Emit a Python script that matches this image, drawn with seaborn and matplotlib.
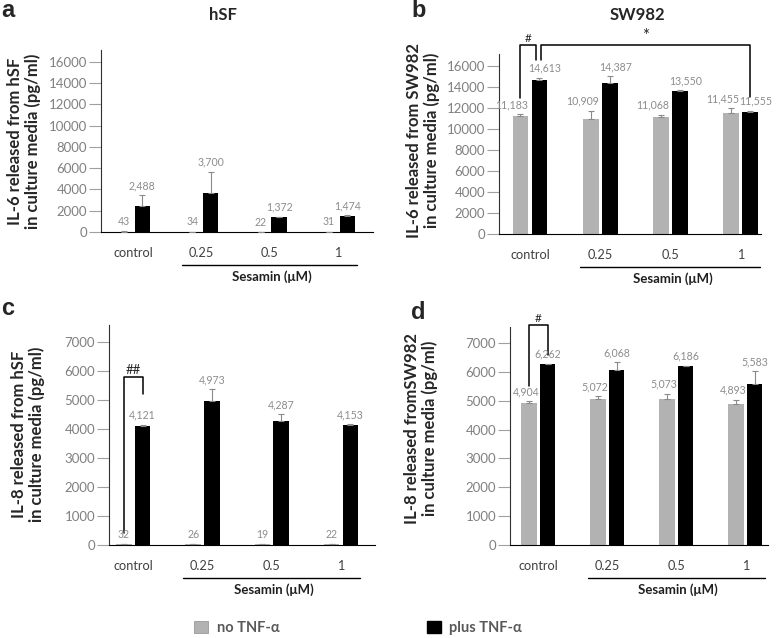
import numpy as np
import pandas as pd
import matplotlib
matplotlib.use('Agg')
import matplotlib.pyplot as plt
from matplotlib.patches import Patch
from matplotlib.transforms import blended_transform_factory, offset_copy
import seaborn as sns

# ---- data ----
doses = ['control', '0.25', '0.5', '1']
treatments = ['no TNF-α', 'plus TNF-α']

il6_hsf_no = [43, 34, 22, 31]
il6_hsf_plus = [2488, 3700, 1372, 1474]
il6_hsf_no_err = [10, 10, 8, 10]
il6_hsf_plus_err = [960, 1950, 50, 100]

il6_sw_no = [11183, 10909, 11068, 11455]
il6_sw_plus = [14613, 14387, 13550, 11555]
il6_sw_no_err = [200, 800, 250, 500]
il6_sw_plus_err = [250, 600, 100, 150]

il8_hsf_no = [32, 26, 19, 22]
il8_hsf_plus = [4121, 4973, 4287, 4153]
il8_hsf_no_err = [5, 5, 5, 5]
il8_hsf_plus_err = [30, 400, 230, 20]

il8_sw_no = [4904, 5072, 5073, 4893]
il8_sw_plus = [6262, 6068, 6186, 5583]
il8_sw_no_err = [80, 80, 160, 140]
il8_sw_plus_err = [20, 260, 20, 430]

W, H = 778, 638
BAR_COLORS = ['#b2b2b2', '#000000']
ERR_COLOR = '#8a8a8a'
LABEL_COLOR = '#8c8c8c'

sns.set_style('white')
plt.rcParams['font.family'] = ['Lato', 'DejaVu Sans']


def add_axes_px(fig, left, top, right, bottom):
    return fig.add_axes([left / W, 1 - bottom / H, (right - left) / W, (bottom - top) / H])


def draw_panel(ax, no_vals, plus_vals, no_err, plus_err, ylim, yticks, xlim, label_dx=(0, 0)):
    df = pd.DataFrame({
        'dose': doses * 2,
        'treatment': [treatments[0]] * len(doses) + [treatments[1]] * len(doses),
        'value': no_vals + plus_vals,
    })
    sns.barplot(data=df, x='dose', y='value', hue='treatment', order=doses,
                hue_order=treatments, palette=BAR_COLORS, width=0.54, gap=0.17,
                errorbar=None, saturation=1, legend=False, linewidth=0, ax=ax)

    centers = []
    for cont, errs, dx in zip(list(ax.containers[:2]), [no_err, plus_err], label_dx):
        xs = [p.get_x() + p.get_width() / 2 for p in cont]
        hs = [p.get_height() for p in cont]
        ax.errorbar(xs, hs, yerr=[np.zeros(len(errs)), errs], fmt='none',
                    ecolor=ERR_COLOR, elinewidth=0.8, capsize=2, capthick=0.8, zorder=3)
        for x, h, e in zip(xs, hs, errs):
            ax.annotate(f'{h:,.0f}', (x, h + e), xytext=(dx, 3), textcoords='offset points',
                        ha='center', va='bottom', fontsize=7.6, color=LABEL_COLOR)
        centers.append(xs)

    ax.set_ylim(*ylim)
    ax.set_xlim(*xlim)
    ax.set_yticks(yticks)
    ax.set_xlabel('')
    ax.set_ylabel('')
    ax.tick_params(axis='y', length=9, width=0.8, color='#a0a0a0', pad=1,
                   labelsize=9.5, labelcolor='#808080', left=True)
    ax.tick_params(axis='x', length=0, pad=11, labelsize=9.2, labelcolor='#404040')
    for side in ['top', 'right']:
        ax.spines[side].set_visible(False)
    ax.spines['left'].set_color('#303030')
    ax.spines['bottom'].set_color('#000000')

    # Sesamin underline + label under the dose ticks
    base = blended_transform_factory(ax.transData, ax.transAxes)
    line_tr = offset_copy(base, fig=ax.figure, y=-33, units='dots')
    text_tr = offset_copy(base, fig=ax.figure, y=-45, units='dots')
    ax.plot([0.72, 3.28], [0, 0], transform=line_tr, color='black', lw=1, clip_on=False)
    ax.text(2.03, 0, 'Sesamin (μM)', transform=text_tr, ha='center', va='center',
            fontsize=9.5, fontweight='bold', color='#202020')
    return centers


def bracket(ax, x1, x2, y_top, y1, y2, text, size=9):
    ax.plot([x1, x1, x2, x2], [y1, y_top, y_top, y2], color='black', lw=1.1, clip_on=False)
    ax.annotate(text, ((x1 + x2) / 2, y_top), xytext=(0, 0.5), textcoords='offset points',
                ha='center', va='bottom', fontsize=size, annotation_clip=False)


fig = plt.figure(figsize=(W / 100, H / 100), dpi=100)

ax_a = add_axes_px(fig, 101, 50, 373, 232)
ax_b = add_axes_px(fig, 499, 54, 761, 234)
ax_c = add_axes_px(fig, 109, 325, 375, 545)
ax_d = add_axes_px(fig, 510, 327, 768, 545)

ticks_il6 = np.arange(0, 16001, 2000)
ticks_il8 = np.arange(0, 7001, 1000)

draw_panel(ax_a, il6_hsf_no, il6_hsf_plus, il6_hsf_no_err, il6_hsf_plus_err,
           (0, 17100), ticks_il6, (-0.47, 3.51))
cb = draw_panel(ax_b, il6_sw_no, il6_sw_plus, il6_sw_no_err, il6_sw_plus_err,
                (0, 17100), ticks_il6, (-0.44, 3.29), label_dx=(-6, 4))
cc = draw_panel(ax_c, il8_hsf_no, il8_hsf_plus, il8_hsf_no_err, il8_hsf_plus_err,
                (0, 7600), ticks_il8, (-0.35, 3.49))
cd = draw_panel(ax_d, il8_sw_no, il8_sw_plus, il8_sw_no_err, il8_sw_plus_err,
                (0, 7550), ticks_il8, (-0.41, 3.33), label_dx=(-2, 0))

# significance brackets
bracket(ax_b, cb[0][0], cb[1][0] - 0.05, 18000, 12950, 16560, '#', size=8.5)
bracket(ax_b, cb[1][0] + 0.03, cb[1][3], 18000, 16560, 13050, '*', size=12)
bracket(ax_c, cc[0][0], cc[1][0], 5820, 415, 5200, '##', size=9.5)
bracket(ax_d, cd[0][0], cd[1][0], 7620, 5500, 6580, '#', size=8.5)

# y labels
ylab_kw = dict(rotation=90, ha='center', va='center', fontsize=12, fontweight='bold',
               linespacing=1.15, multialignment='center')
fig.text(24 / W, 1 - 141 / H, 'IL-6 released from hSF\nin culture media (pg/ml)', **ylab_kw)
fig.text(423 / W, 1 - 140 / H, 'IL-6 released from SW982\nin culture media (pg/ml)', **ylab_kw)
fig.text(28 / W, 1 - 434 / H, 'IL-8 released from hSF\nin culture media (pg/ml)', **ylab_kw)
fig.text(421 / W, 1 - 428 / H, 'IL-8 released fromSW982\nin culture media (pg/ml)', **ylab_kw)

# titles
fig.text(223 / W, 1 - 15 / H, 'hSF', ha='center', va='center', fontsize=12, fontweight='bold')
fig.text(637 / W, 1 - 15 / H, 'SW982', ha='center', va='center', fontsize=12, fontweight='bold')

# panel letters
letter_kw = dict(ha='left', va='baseline', fontsize=17, fontweight='bold',
                 family=['Liberation Sans', 'DejaVu Sans'])
fig.text(1 / W, 1 - 17 / H, 'a', **letter_kw)
fig.text(411 / W, 1 - 17 / H, 'b', **letter_kw)
fig.text(1 / W, 1 - 315 / H, 'c', **letter_kw)
fig.text(411 / W, 1 - 319 / H, 'd', **letter_kw)

# legend
handles = [Patch(facecolor=BAR_COLORS[0], edgecolor='#999999', linewidth=0.6),
           Patch(facecolor=BAR_COLORS[1], edgecolor='black')]
leg = fig.legend(handles, treatments, loc='center left', bbox_to_anchor=(194 / W, 1 - 628 / H),
                 ncol=2, frameon=False, handlelength=0.95, handleheight=0.85,
                 handletextpad=0.6, columnspacing=10.1, borderpad=0, borderaxespad=0,
                 prop={'weight': 'bold', 'size': 10.5})
for t in leg.get_texts():
    t.set_color('#595959')

fig.savefig('out.png', dpi=100)
plt.close(fig)
